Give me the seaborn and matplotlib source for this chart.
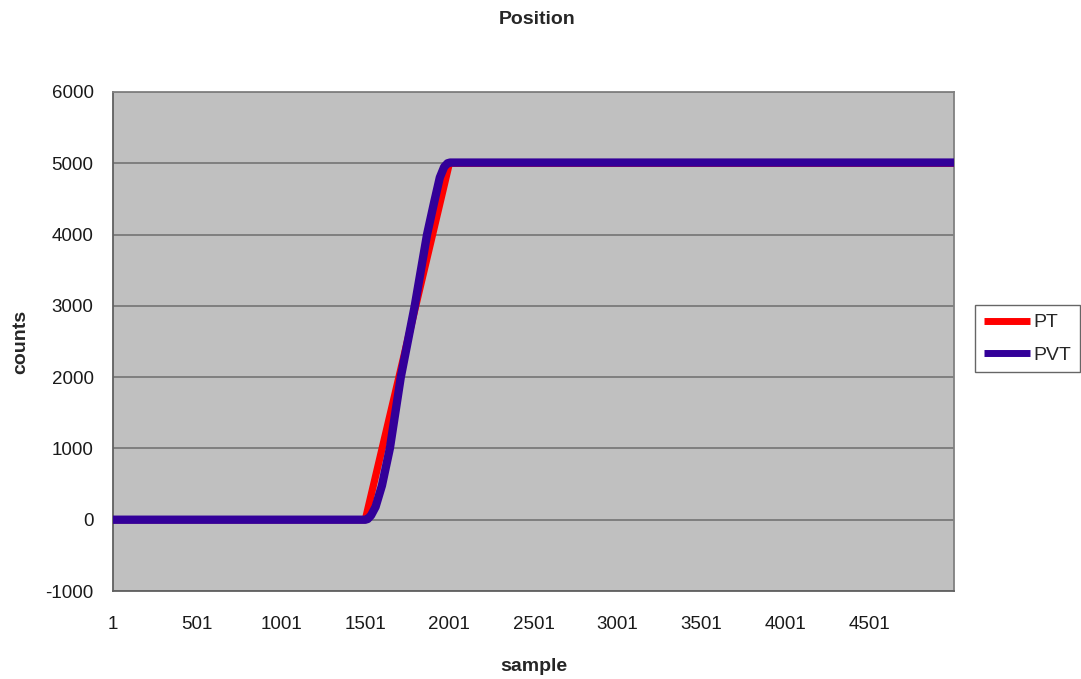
import matplotlib
matplotlib.use("Agg")
import matplotlib.pyplot as plt
import seaborn as sns
import pandas as pd
from matplotlib.lines import Line2D

# Position traces (sample index -> encoder counts)
pt_sample = [1, 1501, 2001, 5001]
pt_counts = [0, 0, 5000, 5000]

pvt_sample = [1, 1501, 1515, 1535, 1562, 1600, 1647, 1712, 1795, 1868, 1910, 1944, 1970, 1990, 2005, 5001]
pvt_counts = [0, 0, 10, 60, 180, 480, 1000, 2000, 3000, 4000, 4450, 4800, 4950, 5000, 5010, 5010]

series_names = ["PT", "PVT"]
series_colors = ["#FF0000", "#330099"]

xtick_values = [1, 501, 1001, 1501, 2001, 2501, 3001, 3501, 4001, 4501, 5001]
xtick_labels = ["1", "501", "1001", "1501", "2001", "2501", "3001", "3501", "4001", "4501", ""]
ytick_values = [-1000, 0, 1000, 2000, 3000, 4000, 5000, 6000]

sns.set_style("white")
plt.rcParams["font.family"] = ["Liberation Sans", "DejaVu Sans"]
plt.rcParams["axes.unicode_minus"] = False

W, H = 1081, 679
fig = plt.figure(figsize=(W / 100, H / 100), dpi=100)
fig.patch.set_facecolor("white")
ax = fig.add_axes([113 / W, (H - 591) / H, (954 - 113) / W, (591 - 92) / H])
ax.set_facecolor("#C0C0C0")

df_pt = pd.DataFrame({"sample": pt_sample, "counts": pt_counts})
df_pvt = pd.DataFrame({"sample": pvt_sample, "counts": pvt_counts})

sns.lineplot(data=df_pt, x="sample", y="counts", ax=ax, color=series_colors[0],
             linewidth=5.2, solid_joinstyle="round", zorder=3)
sns.lineplot(data=df_pvt, x="sample", y="counts", ax=ax, color=series_colors[1],
             linewidth=6.0, solid_joinstyle="round", zorder=4)

ax.set_xlim(1, 5001)
ax.set_ylim(-1000, 6000)
ax.set_xticks(xtick_values)
ax.set_xticklabels(xtick_labels)
ax.set_yticks(ytick_values)

ax.yaxis.grid(True, color="#7a7a7a", linewidth=1.3)
ax.xaxis.grid(False)
ax.set_axisbelow(True)

for side, sp in ax.spines.items():
    sp.set_visible(True)
    sp.set_color("#808080")
    sp.set_linewidth(1.3)
ax.spines["left"].set_color("#606060")
ax.spines["bottom"].set_color("#606060")

ax.tick_params(axis="both", direction="out", length=6, width=1.2, color="#606060",
               labelsize=13.5, labelcolor="#1a1a1a")
ax.tick_params(axis="x", pad=12)
ax.tick_params(axis="y", pad=8)

ax.set_xlabel("sample", fontsize=14, fontweight="bold", labelpad=18)
ax.set_ylabel("counts", fontsize=14, fontweight="bold")
ax.yaxis.set_label_coords(-84 / (954 - 113), 0.5)

fig.text(537 / W, 1 - 19 / H, "Position", ha="center", va="center",
         fontsize=14, fontweight="bold")

handles = [Line2D([0], [0], color=c, linewidth=5, solid_capstyle="butt") for c in series_colors]
leg = fig.legend(handles, series_names, loc="upper left",
                 bbox_to_anchor=(975 / W, 1 - 305 / H), frameon=True, fancybox=False,
                 edgecolor="#404040", fontsize=14, handlelength=2.4, handletextpad=0.15,
                 labelspacing=0.75, borderpad=0.45, borderaxespad=0)
leg.get_frame().set_linewidth(1.0)

fig.savefig("out.png", dpi=100, facecolor="white")
